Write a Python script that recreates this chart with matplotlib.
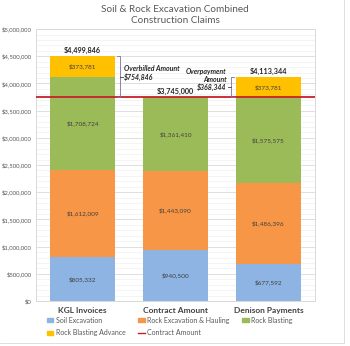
import numpy as np
import matplotlib.pyplot as plt
from matplotlib.lines import Line2D
from matplotlib.patches import Patch
from matplotlib.ticker import FuncFormatter, MultipleLocator

plt.rcParams['font.family'] = ['Lato', 'DejaVu Sans']

categories = ["KGL Invoices", "Contract Amount", "Denison Payments"]
soil = [805332, 940500, 677592]
rock_hauling = [1612009, 1443090, 1486396]
rock_blasting = [1708724, 1361410, 1575575]
blasting_advance = [373781, 0, 373781]
contract_amount = 3745000

series = [
    ("Soil Excavation", soil, "#8DB4E2"),
    ("Rock Excavation & Hauling", rock_hauling, "#F79646"),
    ("Rock Blasting", rock_blasting, "#9BBB59"),
    ("Rock Blasting Advance", blasting_advance, "#FFC000"),
]

fig = plt.figure(figsize=(3.5, 3.46), dpi=100)
ax = fig.add_axes([0.103, 0.130, 0.797, 0.786])

x = np.arange(len(categories))
width = 0.69
bottom = np.zeros(len(categories))
for name, vals, color in series:
    vals = np.array(vals, dtype=float)
    ax.bar(x, vals, width, bottom=bottom, color=color, zorder=2)
    for xi, b, v in zip(x, bottom, vals):
        if v > 0:
            ax.text(xi, b + v / 2, f"${v:,.0f}", ha="center", va="center",
                    fontsize=4.6, color="#404040", zorder=4)
    bottom += vals
totals = bottom

ax.axhline(contract_amount, color="#C8202A", lw=1.3, zorder=3)

# totals above each stack
for xi, t in zip(x, totals):
    ax.text(xi, t + 40000, f"${t:,.0f}", ha="center", va="bottom",
            fontsize=5.2, fontweight="bold", color="#262626", zorder=4)

# overbilled bracket on the KGL bar
over = totals[0] - contract_amount
mid = (totals[0] + contract_amount) / 2
bx = 0.40
ax.plot([bx - 0.03, bx, bx, bx - 0.03], [totals[0], totals[0], contract_amount, contract_amount],
        color="#7F6F9F", lw=0.6, zorder=3)
ax.plot([bx, bx + 0.04], [mid, mid], color="#404040", lw=0.6, zorder=3)
ax.text(bx + 0.05, mid, f"${over:,.0f}", ha="left", va="center", fontsize=5,
        fontweight="bold", style="italic", color="#262626")
ax.text(bx + 0.05, mid + 80000, "Overbilled Amount", ha="left", va="bottom", fontsize=5,
        fontweight="bold", style="italic", color="#262626")

# overpayment bracket on the Denison bar
pay = totals[2] - contract_amount
mid2 = (totals[2] + contract_amount) / 2
bx2 = 1.60
ax.plot([bx2 + 0.03, bx2, bx2, bx2 + 0.03], [totals[2], totals[2], contract_amount, contract_amount],
        color="#7F6F9F", lw=0.6, zorder=3)
ax.plot([bx2, bx2 - 0.04], [mid2, mid2], color="#404040", lw=0.6, zorder=3)
ax.text(bx2 - 0.05, mid2, f"${pay:,.0f}", ha="right", va="center", fontsize=5,
        fontweight="bold", style="italic", color="#262626")
ax.text(bx2 - 0.05, mid2 + 80000, "Overpayment\nAmount", ha="right", va="bottom",
        fontsize=5, fontweight="bold", style="italic", color="#262626",
        linespacing=1.15, multialignment="right")

ax.set_xlim(-0.5, 2.5)
ax.set_ylim(0, 5000000)
ax.yaxis.set_major_locator(MultipleLocator(500000))
ax.yaxis.set_minor_locator(MultipleLocator(100000))
ax.yaxis.set_major_formatter(FuncFormatter(lambda v, p: f"${v:,.0f}"))
ax.grid(axis="y", which="major", color="#D9D9D9", lw=0.6, zorder=0)
ax.grid(axis="y", which="minor", color="#F0F0F0", lw=0.5, zorder=0)
ax.set_axisbelow(True)
ax.set_xticks(x)
ax.set_xticklabels(categories, fontsize=6, fontweight="bold", color="#404040")
ax.tick_params(axis="y", which="both", length=0, labelsize=4.3, labelcolor="#595959", pad=3)
ax.tick_params(axis="x", length=0, pad=4)
for s in ax.spines.values():
    s.set_color("#D9D9D9")
    s.set_linewidth(0.7)

fig.suptitle("Soil & Rock Excavation Combined\nConstruction Claims", x=0.5, y=0.985,
             fontsize=7.2, color="#595959", linespacing=1.3)

h = {name: Patch(color=color) for name, _, color in series}
contract_handle = Line2D([], [], color="#C8202A", lw=1)
handles = [h["Soil Excavation"], h["Rock Blasting Advance"],
           h["Rock Excavation & Hauling"], contract_handle, h["Rock Blasting"]]
labels = ["Soil Excavation", "Rock Blasting Advance", "Rock Excavation & Hauling",
          "Contract Amount", "Rock Blasting"]
fig.legend(handles, labels, ncol=3, loc="lower left", bbox_to_anchor=(0.115, 0.01),
           frameon=False, fontsize=5.0, handlelength=1.0, handleheight=0.45,
           handletextpad=0.3, columnspacing=1.8, labelspacing=0.8, labelcolor="#595959")

fig.add_artist(Line2D([0.983, 0.983], [0.008, 1.0], color="#D9D9D9", lw=0.6))
fig.add_artist(Line2D([0.0, 0.983], [0.008, 0.008], color="#D9D9D9", lw=0.6))

fig.savefig("out.png", dpi=100)
